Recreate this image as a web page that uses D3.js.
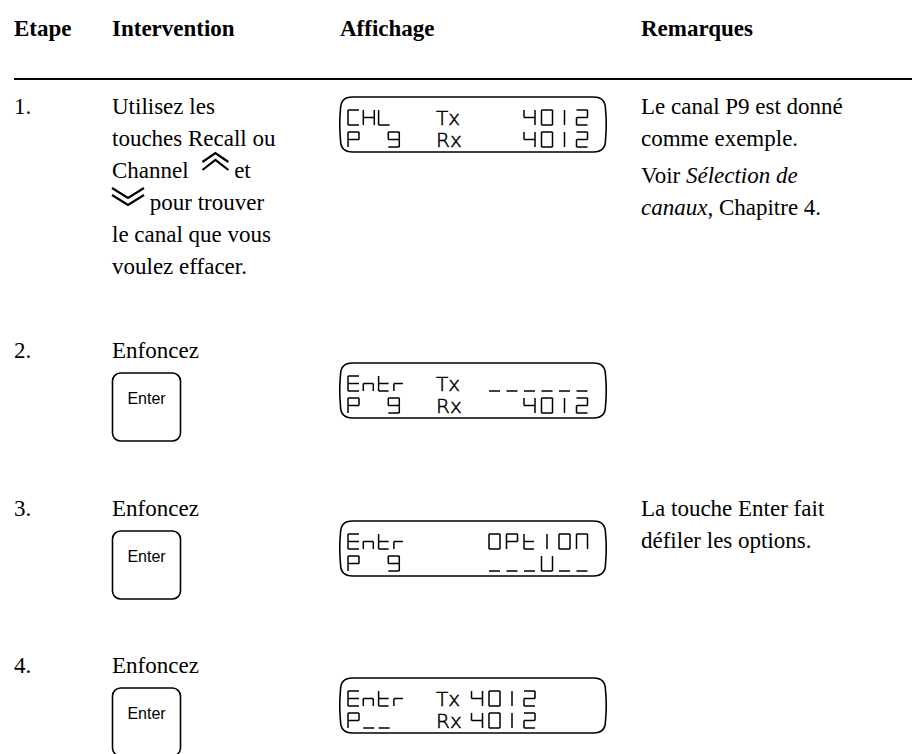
<!DOCTYPE html>
<html><head><meta charset="utf-8">
<script src="https://cdn.jsdelivr.net/npm/d3@7"></script>
<style>html,body{margin:0;padding:0;background:#fff}</style>
</head><body><div id="chart"></div>
<script>
// ---------- content ----------
const headers = ["Etape", "Intervention", "Affichage", "Remarques"];
const stepLabels = ["1.", "2.", "3.", "4."];
const step1Lines = ["Utilisez les", "touches Recall ou", "Channel [UP] et", "[DOWN] pour trouver", "le canal que vous", "voulez effacer."];
const pressLabel = "Enfoncez";
const keyLabel = "Enter";
// LCD content: left field, tag (Tx/Rx), value field ; two lines per display
const lcdLeft  = [["CHL", "P 9"], ["Entr", "P 9"], ["Entr", "P 9"], ["Entr", "P__"]];
const lcdTag   = [["Tx", "Rx"], ["Tx", "Rx"], ["", ""], ["Tx", "Rx"]];
const lcdValue = [["   4012", "   4012"], [" ______", "   4012"], [" OPtION", " ___U__"], ["4012", "4012"]];
// remarks: paragraphs -> lines -> runs [text, italic]
const remarks = [
  [[[["Le canal P9 est donné", 0]], [["comme exemple.", 0]]],
   [[["Voir ", 0], ["Sélection de", 1]], [["canaux", 1], [", Chapitre 4.", 0]]]],
  [],
  [[[["La touche Enter fait", 0]], [["défiler les options.", 0]]]],
  []
];

// ---------- layout ----------
const W = 912, H = 754;
const serif = "'Liberation Serif','Times New Roman',serif";
const fs = 23, lineH = 32, paraGap = 5;
const colX = d3.scaleOrdinal().domain(headers).range([14, 112, 340, 641]);
const rowY = d3.scaleOrdinal().domain(stepLabels).range([114, 358, 516, 673]);

const svg = d3.select("#chart").append("svg")
  .attr("width", W).attr("height", H).attr("viewBox", `0 0 ${W} ${H}`)
  .style("display", "block");

// header
svg.selectAll("text.hdr").data(headers).join("text")
  .attr("class", "hdr")
  .attr("x", d => colX(d)).attr("y", 36)
  .attr("font-family", serif).attr("font-weight", "bold").attr("font-size", fs)
  .attr("fill", "#000").text(d => d);
svg.append("line").attr("x1", 14).attr("x2", W).attr("y1", 79).attr("y2", 79)
  .attr("stroke", "#000").attr("stroke-width", 2);

// step numbers
svg.selectAll("text.step").data(stepLabels).join("text")
  .attr("class", "step")
  .attr("x", colX("Etape")).attr("y", d => rowY(d))
  .attr("font-family", serif).attr("font-size", fs).attr("fill", "#000").text(d => d);

// chevron icons
function chevUp(g, x, base) {
  const top = base - 25, w = 26;
  g.append("path").attr("d",
    `M${x},${top + 9} L${x + w / 2},${top} L${x + w},${top + 9} M${x},${top + 17} L${x + w / 2},${top + 7} L${x + w},${top + 17}`)
    .attr("fill", "none").attr("stroke", "#000").attr("stroke-width", 2.2);
  return w;
}
function chevDown(g, x, base) {
  const top = base - 22, w = 32;
  g.append("path").attr("d",
    `M${x},${top} L${x + w / 2},${top + 10} L${x + w},${top} M${x},${top + 7} L${x + w / 2},${top + 17} L${x + w},${top + 7}`)
    .attr("fill", "none").attr("stroke", "#000").attr("stroke-width", 2.2);
  return w;
}

// intervention step 1
const ix = colX("Intervention");
step1Lines.forEach((ln, i) => {
  const base = rowY("1.") + i * lineH;
  const parts = ln.split(/(\[UP\]|\[DOWN\])/).filter(p => p !== "");
  let cx = ix;
  parts.forEach(p => {
    if (p === "[UP]") { cx += chevUp(svg, cx + 8, base) + 8; }
    else if (p === "[DOWN]") { cx += chevDown(svg, cx, base); }
    else {
      const t = svg.append("text").attr("x", cx).attr("y", base)
        .attr("font-family", serif).attr("font-size", fs).attr("fill", "#000")
        .attr("xml:space", "preserve").style("white-space", "pre").text(p);
      cx += t.node().getComputedTextLength();
    }
  });
});

// intervention steps 2-4 : "Enfoncez" + Enter key
stepLabels.slice(1).forEach(s => {
  const base = rowY(s);
  svg.append("text").attr("x", ix).attr("y", base)
    .attr("font-family", serif).attr("font-size", fs).attr("fill", "#000").text(pressLabel);
  const kTop = base + 15;
  svg.append("rect").attr("x", ix + 0.5).attr("y", kTop).attr("width", 68).attr("height", 68)
    .attr("rx", 8).attr("fill", "#fff").attr("stroke", "#000").attr("stroke-width", 1.6);
  svg.append("text").attr("x", ix + 34.5).attr("y", kTop + 31).attr("text-anchor", "middle")
    .attr("font-family", "'Liberation Sans',Arial,sans-serif").attr("font-size", 16)
    .attr("fill", "#000").text(keyLabel);
});

// ---------- seven-segment glyphs ----------
const segMap = {
  "0": "abcdef", "O": "abcdef", "2": "abged", "4": "fgbc", "9": "abcdfg",
  "C": "afed", "H": "fbgec", "L": "fed", "E": "afged", "n": "egc", "t": "fged",
  "r": "eg", "P": "abfge", "N": "abcef", "U": "bcdef", "_": "d"
};
const glyphW = { "r": 9, "n": 10, "t": 10 };
function glyphPath(ch, x, y, h) {
  const w = glyphW[ch] || 11, m = y + h / 2, b = y + h;
  if (ch === "1" || ch === "I") return `M${x + w / 2},${y} V${b}`;
  const segs = {
    a: `M${x},${y} H${x + w}`, b: `M${x + w},${y} V${m}`, c: `M${x + w},${m} V${b}`,
    d: `M${x},${b} H${x + w}`, e: `M${x},${m} V${b}`, f: `M${x},${y} V${m}`, g: `M${x},${m} H${x + w}`
  };
  return (segMap[ch] || "").split("").map(k => segs[k]).join(" ");
}

// ---------- LCD displays ----------
const lcdW = 265, lcdH = 55, gh = 15;
const lcdX = colX("Affichage");
const lcdTop = stepLabels.map((s, i) => i === 0 ? rowY(s) - 17 : rowY(s) + 5);
function lcdBox(x0, y0) {
  const x1 = x0 + lcdW, y1 = y0 + lcdH, r = 12;
  return `M${x0 + r},${y0} H${x1 - r} Q${x1},${y0} ${x1},${y0 + r} Q${x1 + 1.5},${(y0 + y1) / 2} ${x1},${y1 - r} Q${x1},${y1} ${x1 - r},${y1} ` +
         `H${x0 + r} Q${x0},${y1} ${x0},${y1 - r} Q${x0 - 1.5},${(y0 + y1) / 2} ${x0},${y0 + r} Q${x0},${y0} ${x0 + r},${y0} Z`;
}
lcdTop.forEach((top, i) => {
  const g = svg.append("g").attr("aria-label", lcdLeft[i].map((l, k) => `${l} ${lcdTag[i][k]} ${lcdValue[i][k].trim()}`).join(" / "));
  g.append("title").text(lcdLeft[i].map((l, k) => `${l} ${lcdTag[i][k]} ${lcdValue[i][k].trim()}`).join(" | "));
  g.append("path").attr("d", lcdBox(lcdX + 0.5, top)).attr("fill", "none")
    .attr("stroke", "#000").attr("stroke-width", 1.6);
  [0, 1].forEach(k => {
    const gy = top + 13 + k * 22;
    let d = [];
    // left field (compact pitch)
    let cx = lcdX + 8;
    lcdLeft[i][k].split("").forEach(ch => {
      if (ch === " ") { cx += 25; return; }
      d.push(glyphPath(ch, cx, gy, gh)); cx += 15.3;
    });
    // value field
    lcdValue[i][k].split("").forEach((ch, j) => {
      if (ch !== " ") d.push(glyphPath(ch, lcdX + 131.5 + j * 17.5, gy, gh));
    });
    g.append("path").attr("d", d.join(" ")).attr("fill", "none")
      .attr("stroke", "#000").attr("stroke-width", 1.5);
    if (lcdTag[i][k]) {
      g.append("text").attr("x", lcdX + 96).attr("y", gy + gh)
        .attr("font-family", "'DejaVu Sans',sans-serif").attr("font-weight", 200)
        .attr("font-size", 20).attr("fill", "#000").attr("stroke", "#000").attr("stroke-width", 0.5)
        .text(lcdTag[i][k]);
    }
  });
});

// ---------- remarks ----------
const rx = colX("Remarques");
remarks.forEach((paras, i) => {
  let base = rowY(stepLabels[i]);
  paras.forEach((lines, p) => {
    if (p > 0) base += paraGap;
    lines.forEach(runs => {
      const t = svg.append("text").attr("x", rx).attr("y", base)
        .attr("font-family", serif).attr("font-size", fs).attr("fill", "#000")
        .style("white-space", "pre");
      runs.forEach(([txt, it]) => t.append("tspan").attr("font-style", it ? "italic" : "normal").text(txt));
      base += lineH;
    });
  });
});
</script>
</body></html>
